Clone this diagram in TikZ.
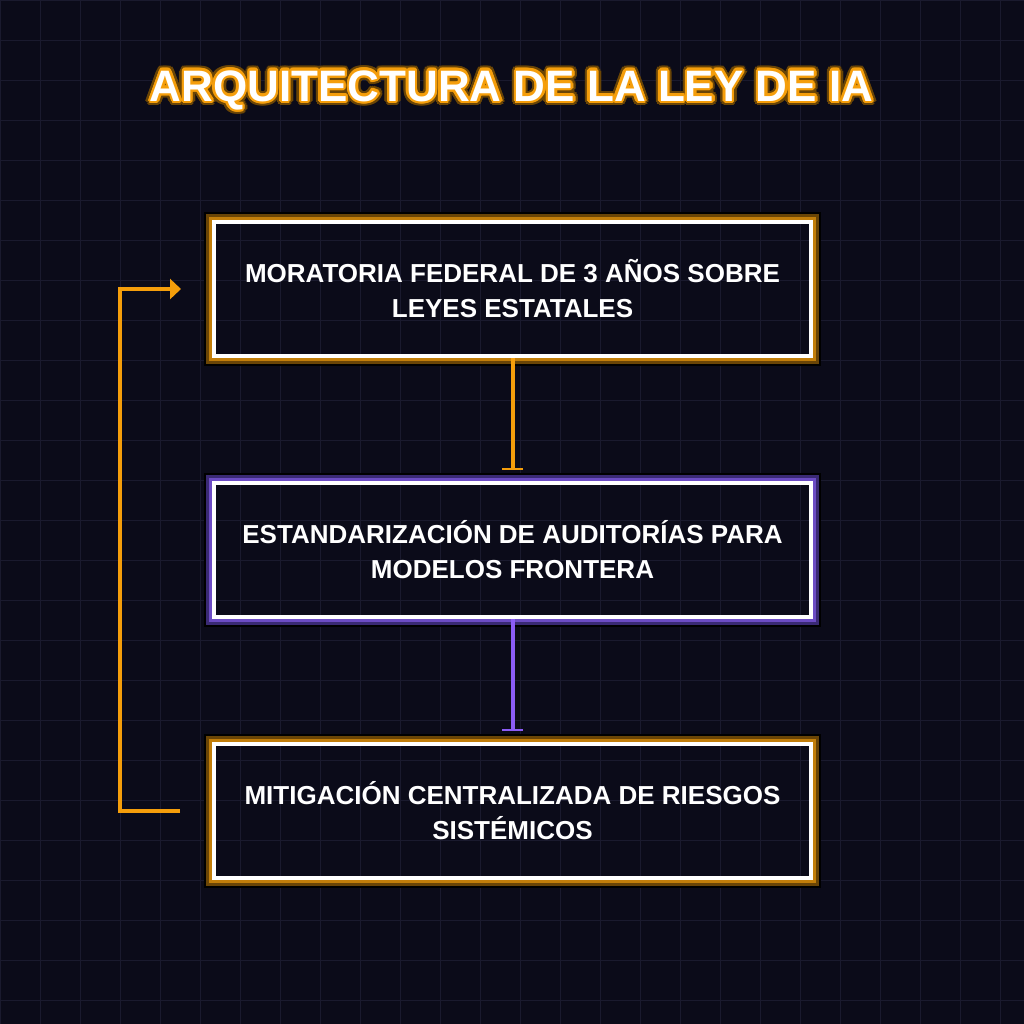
\documentclass[tikz,border=0pt]{standalone}
\usepackage{fontspec}
\setmainfont{Liberation Sans}
\usetikzlibrary{arrows.meta, positioning, calc}
\definecolor{bgNavy}{HTML}{0B0B19}
\definecolor{gridNavy}{HTML}{1A1A2E}
\definecolor{leyOrange}{HTML}{F59E0B}
\definecolor{leyPurple}{HTML}{8B5CF6}
\definecolor{glowOrange}{HTML}{C27E0A}
\definecolor{glowOrangeDark}{HTML}{6A4506}
\definecolor{glowPurple}{HTML}{6C4CC4}
\definecolor{glowPurpleDark}{HTML}{3A2A74}

% halo round a box: black rim, dark band, bright band
\newcommand{\glowframe}[3]{%
  \draw[black, line width=1pt] ([shift={(-7,-7)}]#1.north west) rectangle ([shift={(7,7)}]#1.south east);
  \draw[#3, line width=1.5pt] ([shift={(-4.5,-4.5)}]#1.north west) rectangle ([shift={(4.5,4.5)}]#1.south east);
  \draw[#2, line width=1.5pt] ([shift={(-1.5,-1.5)}]#1.north west) rectangle ([shift={(1.5,1.5)}]#1.south east);
}

\begin{document}
\begin{tikzpicture}[x=0.5pt, y=-0.5pt, node distance=61.5pt]
    \fill[bgNavy] (0,0) rectangle (1024,1024);
    \useasboundingbox (0,0) rectangle (1024,1024);
    \foreach \g in {0,40,...,1000} {
      \draw[gridNavy, line width=0.5pt] (\g,0) -- (\g,1024);
      \draw[gridNavy, line width=0.5pt] (0,\g) -- (1024,\g);
    }

    % title with orange outline
    \foreach \a in {0,22.5,...,337.5} {
      \node[font=\fontsize{22pt}{26pt}\selectfont\bfseries, text=glowOrangeDark]
        (haloA\a) at ($(511.5,90)+(\a:2.4pt)$) {ARQUITECTURA DE LA LEY DE IA};
    }
    \foreach \a in {0,22.5,...,337.5} {
      \node[font=\fontsize{22pt}{26pt}\selectfont\bfseries, text=leyOrange]
        (haloB\a) at ($(511.5,90)+(\a:1.2pt)$) {ARQUITECTURA DE LA LEY DE IA};
    }
    \node[font=\fontsize{22pt}{26pt}\selectfont\bfseries, text=white]
      (titulo) at (511.5,90) {ARQUITECTURA DE LA LEY DE IA};

    \node[draw=white, line width=2pt, minimum width=298.5pt, minimum height=67pt,
          align=center, text=white, font=\fontsize{13pt}{17.5pt}\selectfont\bfseries] (moratoria)
          at (512.5,289) {MORATORIA FEDERAL DE 3 AÑOS SOBRE\\LEYES ESTATALES};
    \node[draw=white, line width=2pt, minimum width=298.5pt, minimum height=67pt,
          align=center, text=white, font=\fontsize{13pt}{17.5pt}\selectfont\bfseries,
          below=of moratoria] (auditorias)
          {ESTANDARIZACIÓN DE AUDITORÍAS PARA\\MODELOS FRONTERA};
    \node[draw=white, line width=2pt, minimum width=298.5pt, minimum height=67pt,
          align=center, text=white, font=\fontsize{13pt}{17.5pt}\selectfont\bfseries,
          below=of auditorias] (riesgos)
          {MITIGACIÓN CENTRALIZADA DE RIESGOS\\SISTÉMICOS};

    \glowframe{moratoria}{glowOrange}{glowOrangeDark}
    \glowframe{auditorias}{glowPurple}{glowPurpleDark}
    \glowframe{riesgos}{glowOrange}{glowOrangeDark}

    \draw[-{Bar[width=10.5pt, line width=1pt]}, line width=2pt, leyOrange, shorten >=5.5pt]
      (moratoria.south) -- (auditorias.north);
    \draw[-{Bar[width=10.5pt, line width=1pt]}, line width=2pt, leyPurple, shorten >=5.5pt]
      (auditorias.south) -- (riesgos.north);

    % feedback loop on the left
    \coordinate (fbStart) at ([xshift=-16pt]riesgos.west);
    \coordinate (fbEnd) at ([xshift=-15.5pt]moratoria.west);
    \draw[-{Triangle[length=5.5pt, width=10pt]}, line width=2pt, leyOrange]
      (fbStart) -- ++(-60,0) |- (fbEnd);
\end{tikzpicture}
\end{document}
